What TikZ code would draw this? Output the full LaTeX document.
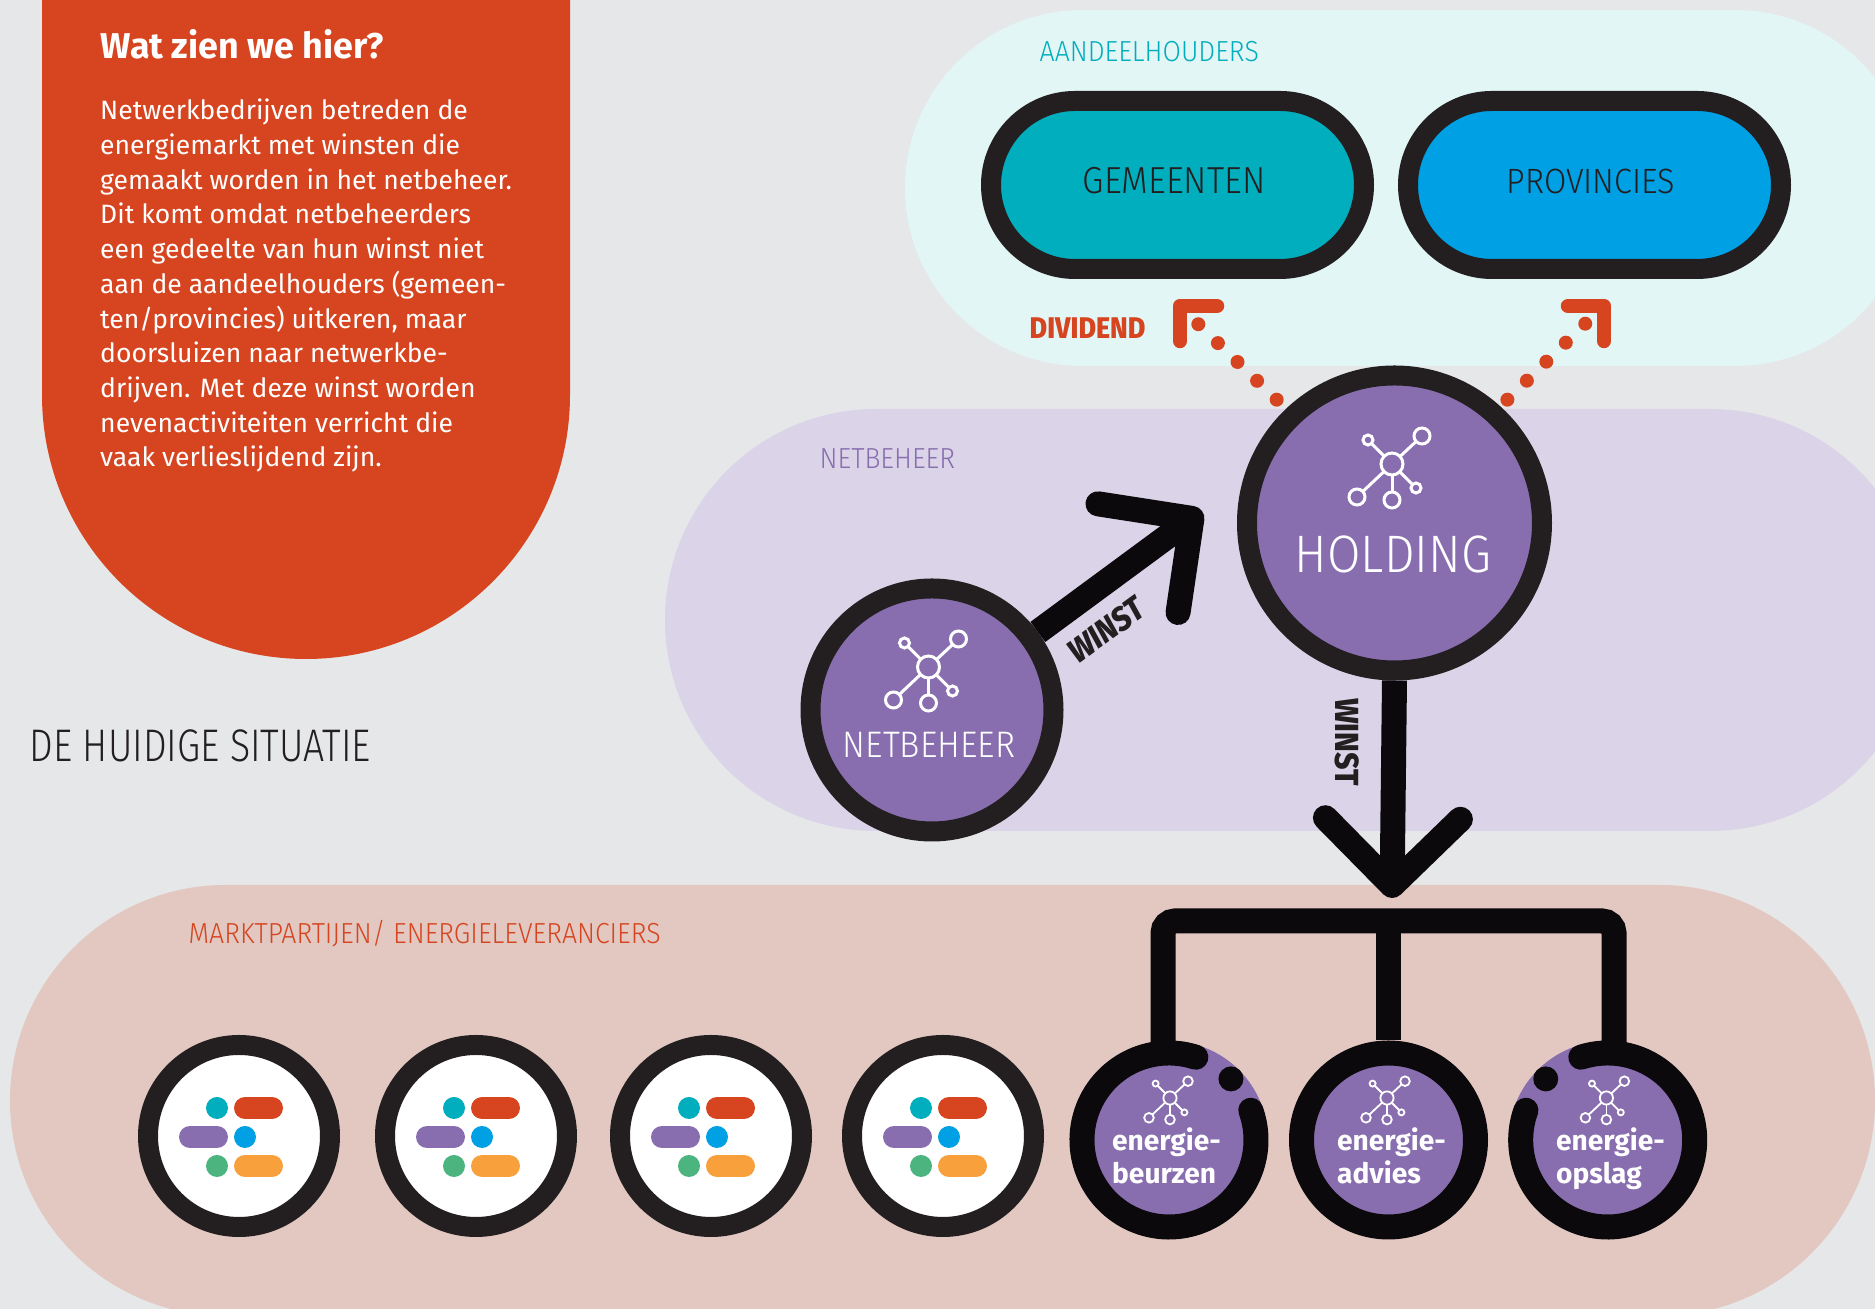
\documentclass[tikz,border=0pt]{standalone}
\usepackage{fontspec}
\setmainfont{Fira Sans}
\newfontfamily\labelfont[UprightFont=* Light,FakeStretch=0.82]{Fira Sans}
\newfontfamily\labelwide[UprightFont=* Light,FakeStretch=0.92]{Fira Sans}
\newfontfamily\winstfont[UprightFont=* ExtraBold,ItalicFont=* ExtraBold Italic,FakeStretch=0.9]{Fira Sans}
\usetikzlibrary{positioning,calc,arrows.meta,shapes.misc}
\definecolor{bggrey}{HTML}{E6E7E8}
\definecolor{panelred}{HTML}{D64520}
\definecolor{aquapale}{HTML}{E3F6F6}
\definecolor{lilacpale}{HTML}{DBD3E8}
\definecolor{rosepale}{HTML}{E2C8C0}
\definecolor{netpurple}{HTML}{886EAF}
\definecolor{ink}{HTML}{231F20}
\definecolor{inkblack}{HTML}{0B090C}
\definecolor{tealc}{HTML}{00AEBD}
\definecolor{bluec}{HTML}{00A0E4}
\definecolor{greenc}{HTML}{4CB47E}
\definecolor{amberc}{HTML}{F7A03C}
\tikzstyle{pillbg}=[rounded rectangle, inner sep=0pt, draw=none]
\tikzstyle{owner}=[rounded rectangle, inner sep=0pt, draw=ink, line width=.2cm,
minimum width=3.73cm, minimum height=1.68cm]
\tikzstyle{ownerlabel}=[inner sep=0pt, text=ink, font=\labelwide\fontsize{10.7}{13}\selectfont]
\tikzstyle{hub}=[circle, inner sep=0pt, draw=ink, line width=.2cm, fill=netpurple]
\tikzstyle{marktnode}=[circle, inner sep=0pt, draw=ink, line width=.2cm, fill=white, minimum size=1.82cm]
\tikzstyle{subhub}=[circle, inner sep=0pt, fill=netpurple, minimum size=1.98cm]
\tikzstyle{ring}=[draw=inkblack, line width=.25cm, line cap=round]
\tikzstyle{sublabel}=[anchor=north west, inner sep=0pt, align=left, text=white,
font=\bfseries\fontsize{8}{9.25}\selectfont]
\tikzstyle{grouplabel}=[anchor=west, inner sep=0pt, font=\labelwide\fontsize{8.25}{10}\selectfont]
\tikzstyle{line}=[draw=inkblack, line width=.25cm]
\tikzstyle{winstarrow}=[line, -{Straight Barb[round,length=.67cm,width=1.35cm]}]
\tikzstyle{dots}=[draw=panelred, line width=.14cm, line cap=round, dash pattern=on 0pt off .272cm]
\tikzstyle{dothead}=[draw=panelred, line width=.145cm, line cap=round, line join=round]
\tikzset{hubline/.style={draw=white, line width=#1}}
\newcommand{\hubicon}[2]{\begin{scope}[shift={(#1)},scale=#2]
	\foreach \sx/\sy/\sr in {.30/.28/.08,-.24/.24/.05,-.35/-.33/.08,0/-.36/.08,.24/-.24/.05} {
		\draw[hubline=#2*.03cm] (0,0) -- (\sx,\sy);
		\draw[hubline=#2*.03cm,fill=netpurple] (\sx,\sy) circle (\sr);
	}
	\draw[hubline=#2*.03cm,fill=netpurple] (0,0) circle (.11);
\end{scope}}
\newcommand{\marktlogo}[1]{\begin{scope}[shift={(#1)}]
	\fill[tealc] (-.22,.28) circle (.11);
	\fill[bluec] (.06,-.01) circle (.11);
	\fill[greenc] (-.22,-.30) circle (.11);
	\draw[panelred, line width=.22cm, line cap=round] (.06,.28) -- (.33,.28);
	\draw[netpurple, line width=.22cm, line cap=round] (-.49,-.01) -- (-.22,-.01);
	\draw[amberc, line width=.22cm, line cap=round] (.06,-.30) -- (.33,-.30);
\end{scope}}

\begin{document}
\begin{tikzpicture}
	\clip (0,0) rectangle (18.75,-13.09);
	\fill[bggrey] (0,0) rectangle (18.75,-13.09);

	% Draw the bands
	\node (aandeelband) [pillbg, fill=aquapale, minimum width=10.08cm, minimum height=3.56cm] at (14.09,-1.88) {};
	\node (netband) [pillbg, fill=lilacpale, minimum width=12.56cm, minimum height=4.22cm] at (12.93,-6.20) {};
	\node (marktband) [pillbg, fill=rosepale, minimum width=18.65cm, minimum height=4.31cm] at (9.425,-11.005) {};

	% Text panel
	\fill[panelred] (.42,.2) -- (.42,-3.95) arc[start angle=180,end angle=360,radius=2.64] -- (5.70,.2) -- cycle;
	\node (paneltitle) [anchor=base west, inner sep=0pt, text=white, font=\bfseries\fontsize{10.2}{12}\selectfont] at (1.00,-.59) {Wat zien we hier?};
	\node (paneltext) [anchor=north west, inner sep=0pt, align=left, text=white, font=\fontsize{7.55}{9.87}\selectfont] at (.995,-.985) {Netwerkbedrijven betreden de\\
		energiemarkt met winsten die\\
		gemaakt worden in het netbeheer.\\
		Dit komt omdat netbeheerders\\
		een gedeelte van hun winst niet\\
		aan de aandeelhouders (gemeen-\\
		ten/provincies) uitkeren, maar\\
		doorsluizen naar netwerkbe-\\
		drijven. Met deze winst worden\\
		nevenactiviteiten verricht die\\
		vaak verlieslijdend zijn.};
	\node (pagetitle) [grouplabel, text=ink, font=\labelfont\fontsize{13}{15}\selectfont] at (.29,-7.46) {DE HUIDIGE SITUATIE};

	% Draw diagram elements
	\node (aandeellabel) [grouplabel, text=tealc] at (10.39,-.52) {AANDEELHOUDERS};
	\node (netlabel) [grouplabel, text=netpurple] at (8.19,-4.59) {NETBEHEER};
	\node (marktlabel) [grouplabel, text=panelred] at (1.88,-9.34) {MARKTPARTIJEN/ ENERGIELEVERANCIERS};

	\node (gemeenten) [owner, fill=tealc] at (11.775,-1.85) {};
	\node (provincies) [owner, fill=bluec] at (15.945,-1.85) {};
	\node (gemeentenlabel) [ownerlabel] at (11.74,-1.81) {GEMEENTEN};
	\node (provincieslabel) [ownerlabel, font=\labelwide\fontsize{10}{13}\selectfont] at (15.91,-1.81) {PROVINCIES};

	\node (holding) [hub, minimum size=2.95cm] at (13.945,-5.23) {};
	\node (netbeheer) [hub, minimum size=2.43cm] at (9.32,-7.10) {};
	\node (holdinglabel) [text=white, inner sep=0pt, font=\labelwide\fontsize{15}{18}\selectfont] at (13.93,-5.54) {HOLDING};
	\node (netbeheerlabel) [text=white, inner sep=0pt, font=\labelwide\fontsize{10.5}{12}\selectfont] at (9.29,-7.45) {NETBEHEER};
	\hubicon{13.92,-4.64}{1}
	\hubicon{9.285,-6.67}{1}

	\foreach \mx [count=\mi] in {2.39,4.76,7.11,9.43} {
		\node (markt\mi) [marktnode] at (\mx,-11.36) {};
		\marktlogo{markt\mi}
	}

	\node (beurzen) [subhub] at (11.69,-11.40) {};
	\node (advies) [subhub] at (13.885,-11.40) {};
	\node (opslag) [subhub] at (16.077,-11.40) {};
	\draw[ring] (beurzen.center) ++(72:.87) arc[start angle=72,end angle=380,radius=.87];
	\fill[inkblack] (beurzen.center) ++(44.6:.87) circle (.125);
	\draw[ring] (advies.center) circle (.87);
	\draw[ring] (opslag.center) ++(108:.87) arc[start angle=108,end angle=-200,radius=.87];
	\fill[inkblack] (opslag.center) ++(135.4:.87) circle (.125);
	\hubicon{11.70,-10.98}{.6}
	\hubicon{13.87,-10.98}{.6}
	\hubicon{16.064,-10.98}{.6}
	\node (beurzenlabel) [sublabel] at (11.115,-11.27) {energie-\\beurzen};
	\node (advieslabel) [sublabel] at (13.365,-11.27) {energie-\\advies};
	\node (opslaglabel) [sublabel] at (15.555,-11.27) {energie-\\opslag};

	% Draw arrows between elements
	\coordinate (nettip) at (12.02,-5.11);
	\coordinate (holdingtip) at (13.92,-8.98);
	\path [winstarrow] (netbeheer) -- (nettip);
	\path [winstarrow] (holding.south) -- (holdingtip);
	\node (winstleft) [rotate=36, inner sep=0pt, text=ink, font=\winstfont\itshape\fontsize{9.5}{11}\selectfont] at (11.06,-6.30) {WINST};
	\node (winstdown) [rotate=-90, inner sep=0pt, text=ink, font=\winstfont\fontsize{9.5}{11}\selectfont] at (13.47,-7.42) {WINST};

	\coordinate (treeleft) at (11.63,-10.5);
	\coordinate (treeright) at (16.14,-10.5);
	\coordinate (barleft) at (11.63,-9.21);
	\coordinate (barright) at (16.14,-9.21);
	\path [line, rounded corners=.12cm] (treeleft) -- (barleft) -- (barright) -- (treeright);
	\path [line] (advies.north) -- (advies.north |- barleft);

	% Dividend
	\coordinate (divleftstart) at (12.767,-3.997);
	\coordinate (divleftend) at (11.96,-3.22);
	\coordinate (divrightstart) at (15.074,-3.997);
	\coordinate (divrightend) at (15.87,-3.22);
	\path [dots] (divleftstart) -- (divleftend);
	\path [dots] (divrightstart) -- (divrightend);
	\coordinate (cornerleft) at (11.80,-3.06);
	\coordinate (cornerright) at (16.04,-3.06);
	\path [dothead] (12.17,-3.06) -- (cornerleft) -- (11.80,-3.41);
	\path [dothead] (15.68,-3.06) -- (cornerright) -- (16.04,-3.41);
	\node (dividendlabel) [anchor=base west, inner sep=0pt, text=panelred, font=\winstfont\fontsize{8.5}{10}\selectfont] at (10.29,-3.39) {DIVIDEND};
\end{tikzpicture}
\end{document}
